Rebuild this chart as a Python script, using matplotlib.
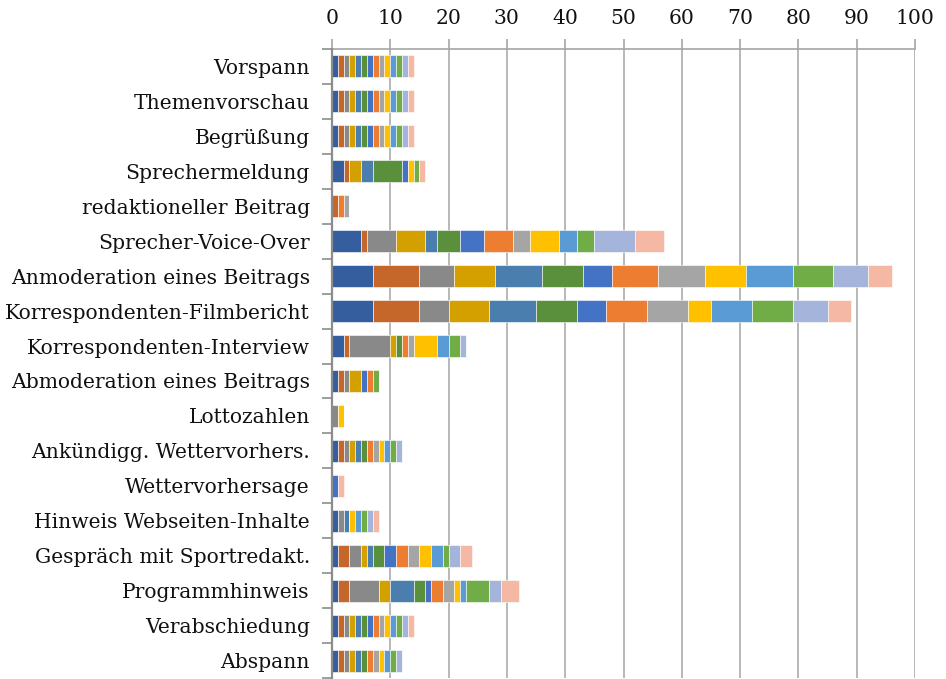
import numpy as np
import matplotlib
matplotlib.use('Agg')
import matplotlib.pyplot as plt

# categorías (de arriba hacia abajo)
categorias = [
    'Vorspann', 'Themenvorschau', 'Begrüßung', 'Sprechermeldung',
    'redaktioneller Beitrag', 'Sprecher-Voice-Over',
    'Anmoderation eines Beitrags', 'Korrespondenten-Filmbericht',
    'Korrespondenten-Interview', 'Abmoderation eines Beitrags',
    'Lottozahlen', 'Ankündigg. Wettervorhers.', 'Wettervorhersage',
    'Hinweis Webseiten-Inhalte', 'Gespräch mit Sportredakt.',
    'Programmhinweis', 'Verabschiedung', 'Abspann',
]

# una fila por categoría, 14 series
valores = [
    [1, 1, 1, 1, 1, 1, 1, 1, 1, 1, 1, 1, 1, 1],
    [1, 1, 1, 1, 1, 1, 1, 1, 1, 1, 1, 1, 1, 1],
    [1, 1, 1, 1, 1, 1, 1, 1, 1, 1, 1, 1, 1, 1],
    [2, 1, 0, 2, 2, 5, 1, 0, 0, 1, 0, 1, 0, 1],
    [0, 1, 0, 0, 0, 0, 0, 1, 1, 0, 0, 0, 0, 0],
    [5, 1, 5, 5, 2, 4, 4, 5, 3, 5, 3, 3, 7, 5],
    [7, 8, 6, 7, 8, 7, 5, 8, 8, 7, 8, 7, 6, 4],
    [7, 8, 5, 7, 8, 7, 5, 7, 7, 4, 7, 7, 6, 4],
    [2, 1, 7, 1, 0, 1, 0, 1, 1, 4, 2, 2, 1, 0],
    [1, 1, 1, 2, 0, 0, 1, 1, 0, 0, 0, 1, 0, 0],
    [0, 0, 1, 0, 0, 0, 0, 0, 0, 1, 0, 0, 0, 0],
    [1, 1, 1, 1, 1, 1, 0, 1, 1, 1, 1, 1, 1, 0],
    [0, 0, 0, 0, 0, 0, 1, 0, 0, 0, 0, 0, 0, 1],
    [1, 0, 1, 0, 1, 0, 0, 0, 0, 1, 1, 1, 1, 1],
    [1, 2, 2, 1, 1, 2, 2, 2, 2, 2, 2, 1, 2, 2],
    [1, 2, 5, 2, 4, 2, 1, 2, 2, 1, 1, 4, 2, 3],
    [1, 1, 1, 1, 1, 1, 1, 1, 1, 1, 1, 1, 1, 1],
    [1, 1, 1, 1, 1, 1, 0, 1, 1, 1, 1, 1, 1, 0],
]

colores = [
    '#355E9F', '#C5672A', '#898989', '#D4A000', '#4A7EAF', '#5A8F3B',
    '#4472C4', '#ED7D31', '#A5A5A5', '#FFC000', '#5B9BD5', '#70AD47',
    '#A5B4DA', '#F4B8A4',
]

ticks_x = list(range(0, 101, 10))


def generar_grafico(archivo):
    plt.rcParams['font.family'] = ['DejaVu Serif']
    datos = np.array(valores, dtype=float)
    y = np.arange(len(categorias))

    fig = plt.figure(figsize=(9.46, 6.79), dpi=100)
    ax = fig.add_axes([332 / 946, 1 / 679, 583 / 946, 629 / 679])

    # barras apiladas
    izquierda = np.zeros(len(categorias))
    for i, color in enumerate(colores):
        ax.barh(y, datos[:, i], left=izquierda, height=0.63, color=color,
                edgecolor='white', linewidth=0.4, zorder=3)
        izquierda += datos[:, i]

    ax.set_xlim(0, 100)
    ax.set_ylim(len(categorias) - 0.5, -0.5)

    # eje x arriba
    ax.xaxis.tick_top()
    ax.set_xticks(ticks_x)
    ax.tick_params(axis='x', length=7, width=1.2, color='#A6A6A6',
                   labelsize=14.6, pad=8, labelcolor='#111111')
    ax.grid(axis='x', color='#ABABAB', linewidth=1.2, zorder=0)

    # eje y con marcas entre categorías
    ax.set_yticks(y)
    ax.set_yticklabels(categorias)
    ax.set_yticks(np.arange(-0.5, len(categorias), 1), minor=True)
    ax.tick_params(axis='y', which='major', length=0, pad=16,
                   labelsize=14.6, labelcolor='#111111')
    ax.tick_params(axis='y', which='minor', length=7, width=1.2,
                   color='#8C8C8C')

    for lado in ['right', 'bottom']:
        ax.spines[lado].set_visible(False)
    ax.spines['top'].set_color('#A6A6A6')
    ax.spines['top'].set_linewidth(1.2)
    ax.spines['left'].set_color('#8C8C8C')
    ax.spines['left'].set_linewidth(1.6)
    ax.spines['left'].set_zorder(4)

    fig.savefig(archivo, dpi=100)
    plt.close(fig)


def main():
    generar_grafico('out.png')


if __name__ == '__main__':
    main()
